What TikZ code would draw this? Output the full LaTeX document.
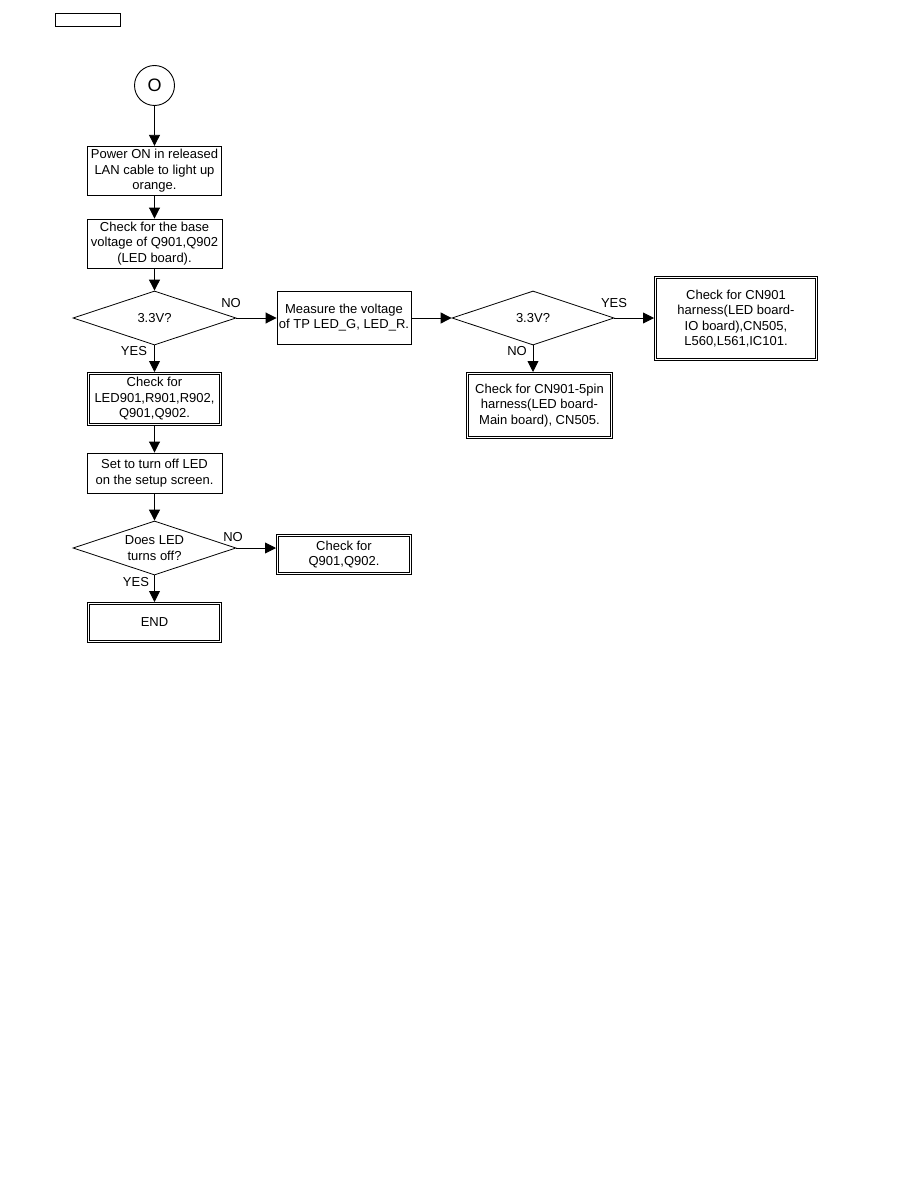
\documentclass[tikz,border=0pt]{standalone}
\usepackage{fontspec}
\setmainfont{Liberation Sans}
\usetikzlibrary{shapes.geometric,arrows.meta}
\newcommand{\fcfont}{\fontsize{13}{15.5}\selectfont}
\tikzset{
  box/.style={draw, line width=0.9pt, inner sep=0pt, align=center, font=\fcfont},
  dbox/.style={draw, double, double distance=1.6pt, line width=0.8pt, inner sep=0pt, outer sep=1.6pt, align=center, font=\fcfont},
  dec/.style={draw, diamond, aspect=3, line width=0.8pt, inner sep=0pt, minimum width=163pt, minimum height=54pt, align=center, font=\fcfont},
  lbl/.style={inner sep=0pt, font=\fcfont},
  arr/.style={line width=0.9pt, -{Triangle[length=11pt,width=11pt]}}
}
\begin{document}
\begin{tikzpicture}[x=1pt,y=-1pt]
\useasboundingbox (0,0) rectangle (918,1188);
\node[draw, line width=0.9pt, minimum width=65pt, minimum height=13pt, inner sep=0pt] (tag) at (87.5,19.5) {};
\node[draw, circle, line width=0.9pt, minimum size=40pt, inner sep=0pt, font=\fontsize{18}{20}\selectfont] (start) at (154.5,85.5) {O};
\node[box, minimum width=134pt, minimum height=49pt] (b1) at (154.5,170.8) {Power ON in released\\LAN cable to light up\\orange.};
\node[box, minimum width=135pt, minimum height=49pt] (b2) at (154.5,243.5) {Check for the base\\voltage of Q901,Q902\\(LED board).};
\node[dec] (d1) at (154.5,318) {3.3V?};
\node[box, minimum width=134pt, minimum height=53pt] (meas) at (344,317.5) {Measure the voltage\\of TP LED\_G, LED\_R.};
\node[dbox, minimum width=131.8pt, minimum height=50.8pt] (led) at (154.5,399) {Check for\\LED901,R901,R902,\\Q901,Q902.};
\node[dec, minimum width=162pt] (d2) at (533,318) {3.3V?};
\node[dbox, minimum width=160.8pt, minimum height=81.8pt] (cn1) at (736,318.5) {Check for CN901\\harness(LED board-\\IO board),CN505,\\L560,L561,IC101.};
\node[dbox, minimum width=143.8pt, minimum height=63.8pt] (cn5) at (539.5,405.5) {Check for CN901-5pin\\harness(LED board-\\Main board), CN505.};
\node[box, minimum width=135pt, minimum height=40pt] (set) at (154.5,473) {Set to turn off LED\\on the setup screen.};
\node[dec] (d3) at (154.5,548) {Does LED\\turns off?};
\node[dbox, minimum width=132.8pt, minimum height=37.8pt] (q) at (344,554.5) {Check for\\Q901,Q902.};
\node[dbox, minimum width=131.8pt, minimum height=37.8pt] (end) at (154.5,622.5) {END};
\node[lbl] (l1) at (231,303) {NO};
\node[lbl] (l2) at (134,351) {YES};
\node[lbl] (l3) at (614,303) {YES};
\node[lbl] (l4) at (517,351) {NO};
\node[lbl] (l5) at (233,537) {NO};
\node[lbl] (l6) at (136,582) {YES};
\draw[arr] (start.south) -- (b1.north);
\draw[arr] (b1.south) -- (b2.north);
\draw[arr] (b2.south) -- (d1.north);
\draw[arr] (d1.east) -- (d1.east -| meas.west);
\draw[arr] (d1.south) -- (led.north);
\draw[arr] (meas.east |- d2.west) -- (d2.west);
\draw[arr] (d2.east) -- (d2.east -| cn1.west);
\draw[arr] (d2.south) -- (d2.south |- cn5.north);
\draw[arr] (led.south) -- (set.north);
\draw[arr] (set.south) -- (d3.north);
\draw[arr] (d3.east) -- (d3.east -| q.west);
\draw[arr] (d3.south) -- (end.north);
\end{tikzpicture}
\end{document}
